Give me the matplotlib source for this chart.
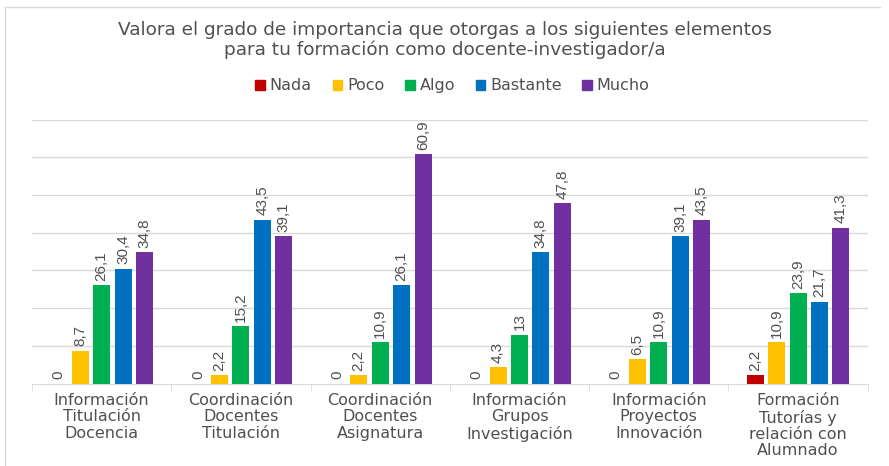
import numpy as np
import matplotlib.pyplot as plt
from matplotlib.patches import Patch

plt.rcParams['font.family'] = ['DejaVu Sans']

categories = [
    "Información\nTitulación\nDocencia",
    "Coordinación\nDocentes\nTitulación",
    "Coordinación\nDocentes\nAsignatura",
    "Información\nGrupos\nInvestigación",
    "Información\nProyectos\nInnovación",
    "Formación\nTutorías y\nrelación con\nAlumnado",
]
series = ["Nada", "Poco", "Algo", "Bastante", "Mucho"]
nada = [0, 0, 0, 0, 0, 2.2]
poco = [8.7, 2.2, 2.2, 4.3, 6.5, 10.9]
algo = [26.1, 15.2, 10.9, 13, 10.9, 23.9]
bastante = [30.4, 43.5, 26.1, 34.8, 39.1, 21.7]
mucho = [34.8, 39.1, 60.9, 47.8, 43.5, 41.3]
colors = ["#C00000", "#FFC000", "#00B050", "#0070C0", "#7030A0"]

values = [nada, poco, algo, bastante, mucho]
text_col = "#505050"

fig = plt.figure(figsize=(8.89, 4.66), dpi=100)
ax = fig.add_axes([0.036, 0.177, 0.940, 0.566])

x = np.arange(len(categories))
step = 0.154
width = 0.122
for i, (name, vals, c) in enumerate(zip(series, values, colors)):
    pos = x + (i - 2) * step
    ax.bar(pos, vals, width, color=c, label=name, zorder=3)
    for p, v in zip(pos, vals):
        lab = f"{v:g}".replace(".", ",")
        ax.text(p, v + 1.2, lab, rotation=90, ha="center", va="bottom",
                fontsize=11, color=text_col, family="Liberation Sans")

ax.set_xlim(-0.5, len(categories) - 0.5)
ax.set_ylim(0, 70)
ax.set_yticks(np.arange(10, 71, 10))
ax.yaxis.grid(True, color="#D9D9D9", linewidth=1, zorder=0)
ax.tick_params(axis="y", left=False, labelleft=False)
ax.set_xticks(x)
ax.set_xticklabels(categories, fontsize=11.5, color=text_col, linespacing=1.1)
ax.tick_params(axis="x", length=0, pad=7)
ax.set_xticks(np.arange(-0.5, len(categories), 1), minor=True)
ax.tick_params(axis="x", which="minor", length=5, color="#D9D9D9")
for s in ["top", "right", "left"]:
    ax.spines[s].set_visible(False)
ax.spines["bottom"].set_color("#D9D9D9")

fig.text(0.5, 0.914, "Valora el grado de importancia que otorgas a los siguientes elementos\n"
         "para tu formación como docente-investigador/a",
         ha="center", va="center", fontsize=13.3, color=text_col, linespacing=1.05)

handles = [Patch(color=c, label=n) for n, c in zip(series, colors)]
fig.legend(handles=handles, loc="center", bbox_to_anchor=(0.509, 0.816), ncol=5,
           frameon=False, fontsize=11.5, handlelength=0.6, handleheight=0.6,
           handletextpad=0.3, columnspacing=1.3, labelcolor=text_col)

# outer chart border
fig.add_artist(plt.Line2D([5 / 889, 5 / 889], [0, 1 - 7 / 466], color="#D9D9D9", lw=1))
fig.add_artist(plt.Line2D([5 / 889, 880 / 889], [1 - 7 / 466, 1 - 7 / 466], color="#D9D9D9", lw=1))

fig.savefig("out.png", dpi=100)
